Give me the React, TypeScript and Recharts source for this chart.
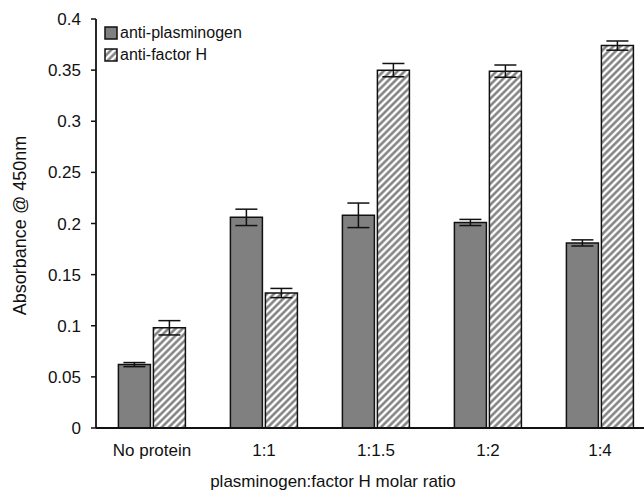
import React from "react";
import { BarChart, Bar, XAxis, YAxis, ErrorBar, Label } from "recharts";

const categories = ["No protein", "1:1", "1:1.5", "1:2", "1:4"];
const plasminogen = [0.062, 0.206, 0.208, 0.201, 0.181];
const plasminogenErr = [0.002, 0.008, 0.012, 0.003, 0.003];
const factorH = [0.098, 0.132, 0.35, 0.349, 0.374];
const factorHErr = [0.007, 0.0045, 0.0065, 0.006, 0.0045];
const yTicks = [0, 0.05, 0.1, 0.15, 0.2, 0.25, 0.3, 0.35, 0.4];

const data = categories.map((name, i) => ({
  name,
  plasminogen: plasminogen[i],
  plasminogenErr: plasminogenErr[i],
  factorH: factorH[i],
  factorHErr: factorHErr[i],
}));

const font = '"Liberation Sans", Arial, sans-serif';

function LegendBox() {
  const item = (label: string, fill: string) => (
    <div style={{ display: "flex", alignItems: "center", height: 22 }}>
      <svg width={15} height={15} style={{ marginRight: 1 }}>
        <rect x={1} y={1} width={12} height={12} fill={fill} stroke="#111" strokeWidth={1.5} />
      </svg>
      <span>{label}</span>
    </div>
  );
  return (
    <div
      style={{
        position: "absolute",
        left: 104,
        top: 22,
        fontFamily: font,
        fontSize: 16,
        color: "#111",
        lineHeight: "16px",
      }}
    >
      {item("anti-plasminogen", "#808080")}
      {item("anti-factor H", "url(#hatch)")}
    </div>
  );
}

export default function App() {
  return (
    <div
      style={{
        position: "absolute",
        left: 0,
        top: 0,
        width: 644,
        height: 492,
        overflow: "hidden",
        background: "#fff",
      }}
    >
      <svg width={0} height={0} style={{ position: "absolute" }}>
        <defs>
          <pattern
            id="hatch"
            patternUnits="userSpaceOnUse"
            width={5}
            height={5}
            patternTransform="rotate(45)"
          >
            <rect width={5} height={5} fill="#fff" />
            <line x1={1.5} y1={0} x2={1.5} y2={5} stroke="#7a7a7a" strokeWidth={2.4} />
          </pattern>
        </defs>
      </svg>
      <BarChart
        width={656}
        height={492}
        data={data}
        margin={{ top: 19, right: 0, bottom: 0, left: 36 }}
        barCategoryGap="20%"
        barGap={3}
      >
        <XAxis
          dataKey="name"
          height={64}
          tickLine={false}
          tickMargin={10}
          axisLine={{ stroke: "#111", strokeWidth: 1.8 }}
          tick={{ fill: "#111", fontSize: 17, fontFamily: font }}
        >
          <Label
            value="plasminogen:factor H molar ratio"
            position="insideBottom"
            dx={-43}
            offset={5}
            style={{ fill: "#111", fontSize: 17, fontFamily: font }}
          />
        </XAxis>
        <YAxis
          width={60}
          domain={[0, 0.4]}
          ticks={yTicks}
          interval={0}
          tickSize={5}
          tickMargin={10}
          axisLine={{ stroke: "#111", strokeWidth: 1.8 }}
          tickLine={{ stroke: "#111", strokeWidth: 1.5 }}
          tick={{ fill: "#111", fontSize: 17, fontFamily: font }}
        >
          <Label
            value="Absorbance @ 450nm"
            angle={-90}
            position="insideLeft"
            dx={-21}
            dy={2}
            style={{ textAnchor: "middle", fill: "#111", fontSize: 18, fontFamily: font }}
          />
        </YAxis>
        <Bar
          dataKey="plasminogen"
          name="anti-plasminogen"
          fill="#808080"
          stroke="#111"
          strokeWidth={1.5}
          isAnimationActive={false}
        >
          <ErrorBar dataKey="plasminogenErr" width={11} stroke="#111" strokeWidth={1.5} />
        </Bar>
        <Bar
          dataKey="factorH"
          name="anti-factor H"
          fill="url(#hatch)"
          stroke="#111"
          strokeWidth={1.5}
          isAnimationActive={false}
        >
          <ErrorBar dataKey="factorHErr" width={11} stroke="#111" strokeWidth={1.5} />
        </Bar>
      </BarChart>
      <LegendBox />
    </div>
  );
}
